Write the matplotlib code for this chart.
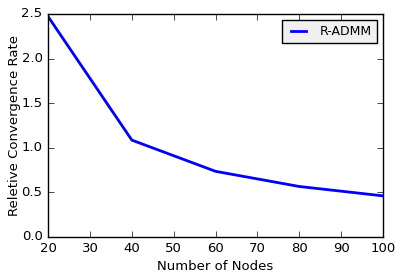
import matplotlib
matplotlib.use('Agg')
from matplotlib import pyplot as plt

plt.style.use('classic')

# данные
nodes = [20, 40, 60, 80, 100]
rate = [2.47, 1.085, 0.735, 0.565, 0.46]

fig = plt.figure(figsize=(4.01, 2.79), dpi=100)
ax = fig.add_axes([0.12, 0.151, 0.835, 0.799])
ax.plot(nodes, rate, color='blue', linewidth=2, label='R-ADMM')
ax.set_xlim(20, 100)
ax.set_ylim(0, 2.5)
ax.set_xticks([20, 30, 40, 50, 60, 70, 80, 90, 100])
ax.set_yticks([0.0, 0.5, 1.0, 1.5, 2.0, 2.5])
ax.tick_params(labelsize=9.5)
ax.set_xlabel('Number of Nodes', fontsize=9.5, labelpad=3)
ax.set_ylabel('Reletive Convergence Rate', fontsize=9.5, labelpad=0.5)
leg = ax.legend(fontsize=9, handlelength=1.8)
leg.get_frame().set_facecolor('#f0f0f0')

fig.savefig('out.png', dpi=100)
